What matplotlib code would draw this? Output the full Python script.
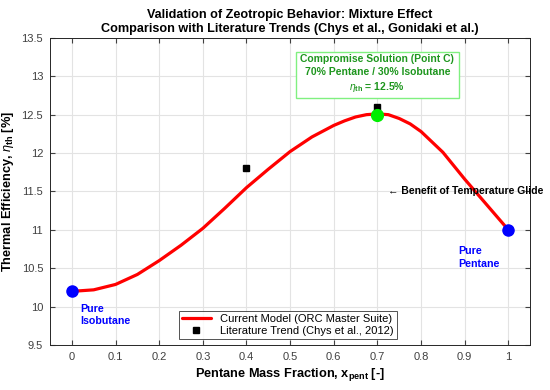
import numpy as np
import matplotlib
matplotlib.use("Agg")
import matplotlib.pyplot as plt

plt.rcParams['font.family'] = ['Liberation Sans', 'DejaVu Sans']
plt.rcParams['mathtext.fontset'] = 'custom'
plt.rcParams['mathtext.rm'] = 'Liberation Sans'
plt.rcParams['mathtext.it'] = 'Liberation Sans:italic'
plt.rcParams['mathtext.bf'] = 'Liberation Sans:bold'

# model curve
x_model = [0.0, 0.05, 0.1, 0.15, 0.2, 0.25, 0.3, 0.35, 0.4, 0.45, 0.5,
           0.55, 0.6, 0.625, 0.65, 0.675, 0.7, 0.725, 0.75, 0.775, 0.8,
           0.85, 0.9, 0.95, 1.0]
eta_model = [10.20, 10.22, 10.29, 10.42, 10.60, 10.80, 11.02, 11.28, 11.55, 11.79, 12.02,
             12.21, 12.36, 12.42, 12.47, 12.50, 12.51, 12.50, 12.45, 12.38, 12.28,
             12.01, 11.66, 11.33, 11.00]

# literature points
x_lit = [0.4, 0.7]
eta_lit = [11.8, 12.6]

# pure fluids + compromise point
x_pure = [0.0, 1.0]
eta_pure = [10.2, 11.0]
x_opt = 0.7
eta_opt = 12.5

xticks = np.arange(0, 1.01, 0.1)
xtick_labels = ['0', '0.1', '0.2', '0.3', '0.4', '0.5', '0.6', '0.7', '0.8', '0.9', '1']
yticks = np.arange(9.5, 13.51, 0.5)
ytick_labels = ['9.5', '10', '10.5', '11', '11.5', '12', '12.5', '13', '13.5']

fig = plt.figure(figsize=(5.5, 3.9), dpi=100)
ax = fig.add_axes([0.091, 0.115, 0.873, 0.788])

ax.plot(x_model, eta_model, color='red', lw=2.3, label='Current Model (ORC Master Suite)',
        zorder=3, solid_joinstyle='round', solid_capstyle='round')
ax.plot(x_lit, eta_lit, 's', color='black', ms=4, label='Literature Trend (Chys et al., 2012)', zorder=4)
ax.plot(x_pure, eta_pure, 'o', color='blue', ms=8, zorder=5)
ax.plot(x_opt, eta_opt, 'o', color='#00ee00', ms=8.5, zorder=5)

ax.set_xlim(-0.05, 1.05)
ax.set_ylim(9.5, 13.5)
ax.set_xticks(xticks)
ax.set_xticklabels(xtick_labels)
ax.set_yticks(yticks)
ax.set_yticklabels(ytick_labels)
ax.tick_params(direction='in', top=True, right=True, labelsize=8, colors='#404040',
               length=3.5, pad=5)
ax.grid(True, color='#e3e3e3', lw=0.8)
ax.set_axisbelow(True)
for s in ax.spines.values():
    s.set_color('#262626')
    s.set_linewidth(0.7)

ax.set_xlabel(r'Pentane Mass Fraction, x$_{\mathbf{pent}}$ [-]', fontsize=9.2,
              fontweight='bold', labelpad=3)
ax.set_ylabel(r'Thermal Efficiency, $\eta_{\mathbf{th}}$ [%]', fontsize=9.2,
              fontweight='bold', labelpad=4)
ax.set_title('Validation of Zeotropic Behavior: Mixture Effect\n'
             'Comparison with Literature Trends (Chys et al., Gonidaki et al.)',
             fontsize=9.1, fontweight='bold', pad=4, linespacing=1.3)

ax.text(0.7, 13.03, 'Compromise Solution (Point C)\n70% Pentane / 30% Isobutane\n'
        r'$\eta_{\mathbf{th}}$ = 12.5%',
        ha='center', va='center', fontsize=7.5, fontweight='bold', color='#1e961e',
        linespacing=1.35,
        bbox=dict(boxstyle='square,pad=0.4', fc='white', ec='#80f080', lw=1))

ax.text(0.725, 11.5, '\u2190 Benefit of Temperature Glide', ha='left', va='center',
        fontsize=7.5, fontweight='bold', color='black', clip_on=False)
ax.text(0.02, 9.89, 'Pure\nIsobutane', ha='left', va='center', fontsize=7.7,
        fontweight='bold', color='blue', linespacing=1.3)
ax.text(0.885, 10.64, 'Pure\nPentane', ha='left', va='center', fontsize=7.7,
        fontweight='bold', color='blue', linespacing=1.3)

leg = ax.legend(loc='lower center', bbox_to_anchor=(0.495, 0.02), fontsize=8,
                frameon=True, fancybox=False, edgecolor='#262626',
                borderpad=0.3, handlelength=2.6, labelspacing=0.15, borderaxespad=0)
leg.get_frame().set_linewidth(0.7)

fig.savefig('out.png', dpi=100)
